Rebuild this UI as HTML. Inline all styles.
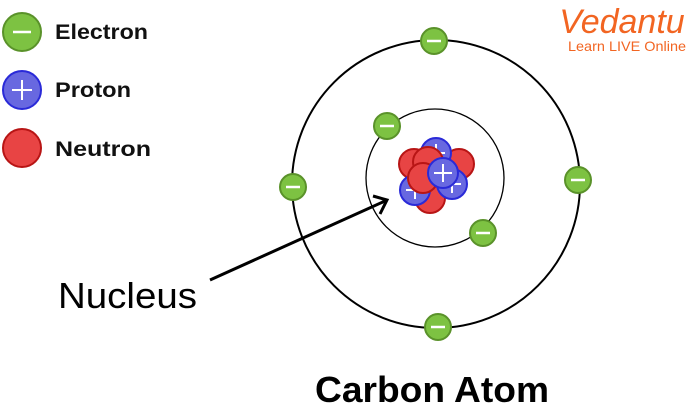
<!DOCTYPE html>
<html><head><style>body{margin:0;background:#fff;width:699px;height:415px;overflow:hidden}</style></head>
<body>
<svg width="699" height="415" viewBox="0 0 699 415" xmlns="http://www.w3.org/2000/svg" font-family="Liberation Sans, sans-serif">
<defs>
<g id="e"><circle r="13" fill="#7dc242" stroke="#5a922a" stroke-width="2"/><line x1="-7" y1="0" x2="7" y2="0" stroke="#fff" stroke-width="2.5"/></g>
<g id="p"><circle r="15" fill="#6868e0" stroke="#2a2ad8" stroke-width="2"/><line x1="-9" y1="0" x2="9" y2="0" stroke="#fff" stroke-width="2"/><line x1="0" y1="-9" x2="0" y2="9" stroke="#fff" stroke-width="2"/></g>
<g id="n"><circle r="15" fill="#e84444" stroke="#b81515" stroke-width="2"/></g>
</defs>
<circle cx="436" cy="184" r="144" fill="none" stroke="#000" stroke-width="2"/>
<circle cx="435" cy="178" r="69" fill="none" stroke="#000" stroke-width="1.3"/>
<use href="#e" x="434" y="41"/><use href="#e" x="438" y="327"/><use href="#e" x="293" y="187"/><use href="#e" x="578" y="180"/>
<use href="#e" x="387" y="126"/><use href="#e" x="483" y="233"/>
<use href="#n" x="414" y="164"/><use href="#n" x="459" y="164"/><use href="#p" x="436" y="153"/>
<use href="#n" x="430" y="198"/><use href="#p" x="452" y="184"/><use href="#n" x="428" y="162"/>
<use href="#p" x="415" y="190"/><use href="#n" x="423" y="178"/><use href="#p" x="443" y="173"/>
<line x1="210" y1="280" x2="385" y2="201" stroke="#000" stroke-width="3"/>
<polyline points="373,196 387,200 380,214" fill="none" stroke="#000" stroke-width="3"/>
<g transform="translate(22,32)"><circle r="19" fill="#7dc242" stroke="#5a922a" stroke-width="2"/><line x1="-9" x2="9" stroke="#fff" stroke-width="2.5"/></g>
<g transform="translate(22,90)"><circle r="19" fill="#6868e0" stroke="#2a2ad8" stroke-width="2"/><line x1="-10" x2="10" stroke="#fff" stroke-width="2"/><line y1="-10" y2="10" stroke="#fff" stroke-width="2"/></g>
<g transform="translate(22,148)"><circle r="19" fill="#e84444" stroke="#b81515" stroke-width="2"/></g>
<g font-weight="bold" font-size="21" fill="#111"><text x="55" y="39" textLength="93" lengthAdjust="spacingAndGlyphs">Electron</text><text x="55" y="97" textLength="76" lengthAdjust="spacingAndGlyphs">Proton</text><text x="55" y="156" textLength="96" lengthAdjust="spacingAndGlyphs">Neutron</text></g>
<text x="58" y="308" font-size="36" fill="#000" textLength="139" lengthAdjust="spacingAndGlyphs">Nucleus</text>
<text x="315" y="402" font-size="36" font-weight="bold" fill="#000" textLength="234" lengthAdjust="spacingAndGlyphs">Carbon Atom</text>
<text x="622" y="33" font-size="34" font-style="italic" text-anchor="middle" fill="#f26522">Vedantu</text>
<text x="568" y="51" font-size="14" fill="#f26522" textLength="118" lengthAdjust="spacingAndGlyphs">Learn LIVE Online</text>
</svg>
</body></html>
